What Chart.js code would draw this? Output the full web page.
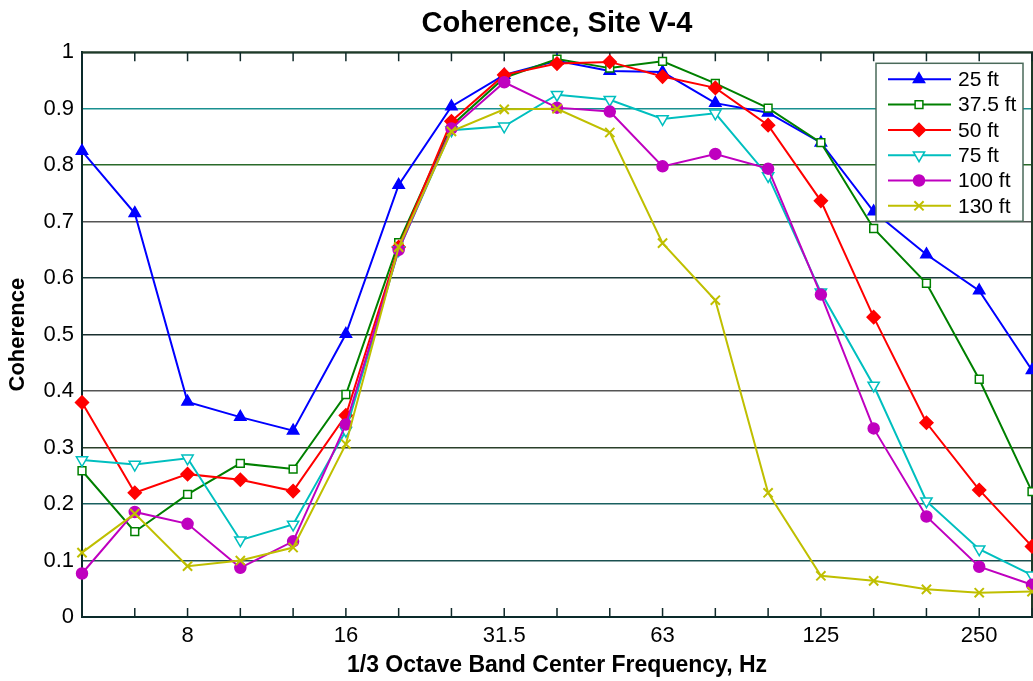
<!DOCTYPE html>
<html>
<head>
<meta charset="utf-8">
<title>Coherence, Site V-4</title>
<script src="https://cdn.jsdelivr.net/npm/chart.js"></script>
<style>
  html, body { margin: 0; padding: 0; background: #fff; }
  #wrap { width: 1033px; height: 681px; position: relative; }
</style>
</head>
<body>
<div id="wrap"><canvas id="coherenceChart"></canvas></div>
<script>
// 1/3 octave band centres (Hz) and the ones that get a label
const bands = ["5", "6.3", "8", "10", "12.5", "16", "20", "25", "31.5", "40",
               "50", "63", "80", "100", "125", "160", "200", "250", "315"];
const labelledBands = ["8", "16", "31.5", "63", "125", "250"];

// Coherence per distance
const coh25  = [0.825, 0.715, 0.381, 0.354, 0.330, 0.501, 0.765, 0.904, 0.960, 0.985,
                0.967, 0.965, 0.910, 0.893, 0.840, 0.718, 0.642, 0.578, 0.437];
const coh37  = [0.259, 0.151, 0.217, 0.272, 0.262, 0.394, 0.663, 0.870, 0.955, 0.988,
                0.972, 0.984, 0.945, 0.901, 0.840, 0.688, 0.591, 0.421, 0.222];
const coh50  = [0.380, 0.220, 0.253, 0.243, 0.223, 0.357, 0.655, 0.878, 0.960, 0.980,
                0.983, 0.957, 0.937, 0.871, 0.737, 0.531, 0.344, 0.225, 0.125];
const coh75  = [0.278, 0.270, 0.281, 0.136, 0.164, 0.330, 0.650, 0.862, 0.869, 0.925,
                0.916, 0.882, 0.892, 0.781, 0.575, 0.410, 0.205, 0.120, 0.074];
const coh100 = [0.077, 0.186, 0.165, 0.087, 0.134, 0.341, 0.650, 0.865, 0.947, 0.902,
                0.895, 0.798, 0.820, 0.794, 0.571, 0.334, 0.178, 0.089, 0.057];
const coh130 = [0.114, 0.183, 0.090, 0.100, 0.123, 0.306, 0.655, 0.860, 0.899, 0.900,
                0.858, 0.662, 0.561, 0.220, 0.073, 0.064, 0.049, 0.043, 0.045];

const FONT = "'Liberation Sans', Arial, sans-serif";

// gridline colours from 0 to 1 (the original mixes black, teal and green)
const gridColors = ["#0a2a2a", "#1a5050", "#1a6060", "#2a402a", "#555555", "#1a3030",
                    "#1a3a3a", "#555555", "#2a6a2a", "#1a9090", "#1e3a28"];

function series(label, data, color, style, opts) {
  return Object.assign({
    label: label,
    data: data,
    borderColor: color,
    backgroundColor: color,
    pointBorderColor: color,
    pointBackgroundColor: color,
    pointStyle: style,
    pointRadius: 6,
    pointBorderWidth: 1.5,
    borderWidth: 2,
    tension: 0,
    fill: false
  }, opts || {});
}

const datasets = [
  series("25 ft",   coh25,  "#0000ff", "triangle", { order: 5, pointRadius: 6.5 }),
  series("37.5 ft", coh37,  "#008000", "rect",     { order: 4, pointRadius: 5.5, pointBackgroundColor: "#ffffff" }),
  series("50 ft",   coh50,  "#ff0000", "rectRot",  { order: 3, pointRadius: 6.5 }),
  series("75 ft",   coh75,  "#00bfbf", "triangle", { order: 2, pointRadius: 6.5, pointRotation: 180, pointBackgroundColor: "#ffffff" }),
  series("100 ft",  coh100, "#bf00bf", "circle",   { order: 1, pointRadius: 5.5 }),
  series("130 ft",  coh130, "#bfbf00", "crossRot", { order: 0, pointRadius: 6.5, pointBorderWidth: 2 })
];

// ── Frame, inward ticks and boxed legend ───────────────────────
const frameAndLegend = {
  id: "frameAndLegend",
  beforeDatasetsDraw(chart) {
    const { ctx, chartArea: a, scales: { x } } = chart;
    ctx.save();
    ctx.strokeStyle = "#1e3a28";
    ctx.lineWidth = 2;
    ctx.beginPath();
    ctx.moveTo(a.left, a.top);
    ctx.lineTo(a.right, a.top);
    ctx.lineTo(a.right, a.bottom);
    ctx.stroke();

    ctx.strokeStyle = "#102a2a";
    ctx.lineWidth = 1.5;
    ctx.beginPath();
    bands.forEach((b, i) => {
      const px = x.getPixelForValue(i);
      ctx.moveTo(px, a.bottom);
      ctx.lineTo(px, a.bottom - 9);
      ctx.moveTo(px, a.top);
      ctx.lineTo(px, a.top + 9);
    });
    ctx.stroke();
    ctx.restore();
  },
  afterDraw(chart) {
    const { ctx, chartArea: a } = chart;
    const bx = a.right - 156, by = a.top + 11, bw = 147, bh = 158;
    ctx.save();
    ctx.fillStyle = "#ffffff";
    ctx.fillRect(bx, by, bw, bh);
    ctx.strokeStyle = "#4a6a5a";
    ctx.lineWidth = 1.5;
    ctx.strokeRect(bx, by, bw, bh);

    ctx.font = "21px " + FONT;
    ctx.textBaseline = "middle";
    chart.data.datasets.forEach((ds, i) => {
      const y = by + 16 + i * 25.3;
      ctx.strokeStyle = ds.borderColor;
      ctx.lineWidth = ds.borderWidth;
      ctx.beginPath();
      ctx.moveTo(bx + 12, y);
      ctx.lineTo(bx + 75, y);
      ctx.stroke();

      ctx.fillStyle = ds.pointBackgroundColor;
      ctx.strokeStyle = ds.pointBorderColor;
      ctx.lineWidth = ds.pointBorderWidth;
      Chart.helpers.drawPoint(ctx, {
        pointStyle: ds.pointStyle,
        rotation: ds.pointRotation || 0,
        radius: ds.pointRadius,
        borderWidth: ds.pointBorderWidth
      }, bx + 43, y);

      ctx.fillStyle = "#000000";
      ctx.fillText(ds.label, bx + 82, y + 1);
    });
    ctx.restore();
  }
};

new Chart(document.getElementById("coherenceChart").getContext("2d"), {
  type: "line",
  data: { labels: bands, datasets: datasets },
  options: {
    responsive: true,
    maintainAspectRatio: false,
    animation: false,
    layout: { autoPadding: false, padding: { left: 0, right: 1, top: 0, bottom: 0 } },
    plugins: {
      legend: { display: false },
      tooltip: { enabled: false },
      title: {
        display: true,
        text: "Coherence, Site V-4",
        color: "#000",
        fullSize: false,
        font: { family: FONT, size: 29, weight: "bold" },
        padding: { top: 7, bottom: 10.5 }
      }
    },
    scales: {
      x: {
        type: "category",
        offset: false,
        ticks: {
          autoSkip: false,
          maxRotation: 0,
          padding: 6,
          color: "#000",
          font: { family: FONT, size: 22 },
          callback: function (value) {
            const lab = this.getLabelForValue(value);
            return labelledBands.includes(lab) ? lab : "";
          }
        },
        grid: { drawOnChartArea: false, drawTicks: false },
        border: { display: true, color: "#0a2a2a", width: 2 },
        title: {
          display: true,
          text: "1/3 Octave Band Center Frequency, Hz",
          color: "#000",
          font: { family: FONT, size: 23, weight: "bold" },
          padding: { top: 0, bottom: 2 }
        },
        afterFit: (scale) => {
          scale.height = 64;
          scale.paddingLeft = 0;
          scale.paddingRight = 0;
        }
      },
      y: {
        min: 0,
        max: 1,
        ticks: {
          stepSize: 0.1,
          padding: 8,
          color: "#000",
          font: { family: FONT, size: 22 },
          callback: (v) => String(Math.round(v * 10) / 10)
        },
        grid: {
          drawTicks: false,
          lineWidth: 1.5,
          color: (c) => gridColors[c.index] || "#333"
        },
        border: { display: true, color: "#0a2a2a", width: 2 },
        title: {
          display: true,
          text: "Coherence",
          color: "#000",
          font: { family: FONT, size: 22, weight: "bold" },
          padding: { top: 5, bottom: 0 }
        },
        afterFit: (scale) => { scale.width = 82; }
      }
    }
  },
  plugins: [frameAndLegend]
});
</script>
</body>
</html>
